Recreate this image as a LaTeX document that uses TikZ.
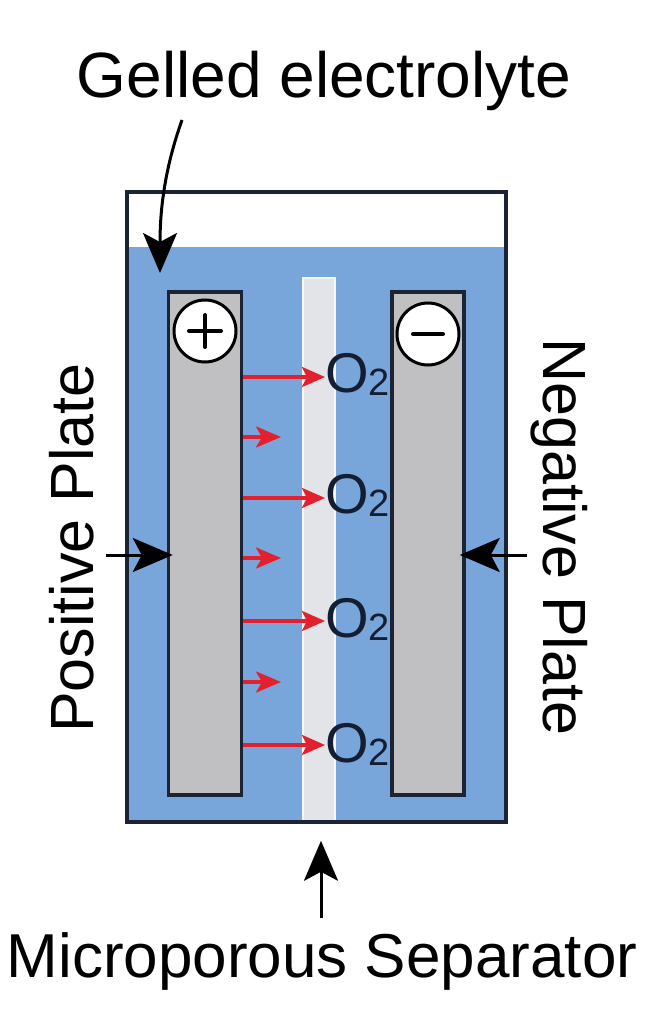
\documentclass[tikz,border=0pt]{standalone}
\usepackage{fontspec}
\setmainfont{Liberation Sans}
\usetikzlibrary{arrows.meta}
\definecolor{gel}{RGB}{120,166,218}
\definecolor{platec}{RGB}{192,192,194}
\definecolor{sepc}{RGB}{226,228,231}
\definecolor{edgec}{RGB}{28,36,52}
\definecolor{redarr}{RGB}{226,32,46}
\definecolor{otext}{RGB}{20,30,50}
\tikzset{
  platebox/.style={draw=edgec, line width=3.5pt, fill=platec, minimum width=73pt, minimum height=503pt, inner sep=0pt},
  signcirc/.style={circle, draw=black, line width=3pt, fill=white, minimum size=62pt, inner sep=0pt},
  oxy/.style={anchor=base west, text=otext, inner sep=0pt, font=\fontsize{56}{56}\selectfont},
  redlong/.style={draw=redarr, line width=3.5pt, -{Stealth[length=23pt,width=20pt,inset=5pt]}},
  redshort/.style={draw=redarr, line width=3.5pt, -{Stealth[length=25pt,width=21pt,inset=6pt]}},
  blk/.style={draw=black, line width=3pt, -{Stealth[length=40pt,width=34pt,inset=9pt]}},
  lbl/.style={inner sep=0pt, font=\fontsize{62}{62}\selectfont},
  signline/.style={line width=4pt, line cap=round}
}
\begin{document}
\begin{tikzpicture}[x=1pt,y=-1pt]
\useasboundingbox (0,0) rectangle (646,1024);
\fill[white] (0,0) rectangle (646,1024);
% gel
\fill[gel] (127,247) rectangle (506,822);
% separator
\node[fill=sepc, draw=white!70!sepc, line width=1.5pt, minimum width=32pt, minimum height=544pt, inner sep=0pt] (sep) at (319,550) {};
% O2 labels
\node[oxy] (o1) at (325,392) {O\raisebox{-3pt}{\fontsize{38}{38}\selectfont 2}};
\node[oxy] (o2) at (325,513) {O\raisebox{-3pt}{\fontsize{38}{38}\selectfont 2}};
\node[oxy] (o3) at (325,637) {O\raisebox{-3pt}{\fontsize{38}{38}\selectfont 2}};
\node[oxy] (o4) at (325,762) {O\raisebox{-3pt}{\fontsize{38}{38}\selectfont 2}};
% plates
\node[platebox] (pplate) at (205,543.5) {};
\node[platebox, minimum width=72pt] (nplate) at (428,543.5) {};
% sign circles
\node[signcirc] (pc) at (205,331) {};
\node[signcirc] (nc) at (428,334) {};
\draw[signline] ([xshift=-16pt]pc.center) -- ([xshift=16pt]pc.center);
\draw[signline] ([yshift=-16pt]pc.center) -- ([yshift=16pt]pc.center);
\draw[signline] ([xshift=-15pt]nc.center) -- ([xshift=15pt]nc.center);
% red arrows
\coordinate (r1) at (243,377);
\coordinate (r2) at (243,498);
\coordinate (r3) at (243,621);
\coordinate (r4) at (243,745);
\draw[redlong] (r1) -- (o1.west |- r1);
\draw[redlong] (r2) -- (o2.west |- r2);
\draw[redlong] (r3) -- (o3.west |- r3);
\draw[redlong] (r4) -- (o4.west |- r4);
\coordinate (s1) at (243,437);
\coordinate (s2) at (243,558);
\coordinate (s3) at (243,682);
\coordinate (t1) at (281,437);
\coordinate (t2) at (281,558);
\coordinate (t3) at (281,682);
\draw[redshort] (s1) -- (t1);
\draw[redshort] (s2) -- (t2);
\draw[redshort] (s3) -- (t3);
% outer box
\node[draw=edgec, line width=3.5pt, minimum width=379pt, minimum height=630pt, inner sep=0pt] (box) at (316.5,507) {};
% labels
\node[lbl, anchor=base, font=\fontsize{64}{64}\selectfont] (gl) at (324,98) {Gelled electrolyte};
\node[lbl, anchor=base] (ms) at (322,977) {Microporous Separator};
\node[lbl, anchor=base, rotate=90, font=\fontsize{61}{61}\selectfont] (pp) at (93,548) {Positive Plate};
\node[lbl, anchor=base, rotate=-90, font=\fontsize{61}{61}\selectfont] (np) at (543,537) {Negative Plate};
% black arrows
\coordinate (ca) at (182,120);
\coordinate (ct) at (160,273);
\draw[blk] (ca) .. controls (166,165) and (160,205) .. (ct);
\coordinate (la) at (106,555);
\draw[blk] (la) -- ([xshift=6pt]pplate.west |- la);
\coordinate (ra) at (527,555);
\draw[blk] (ra) -- ([xshift=-6pt]nplate.east |- ra);
\coordinate (ba) at (321,918);
\draw[blk, shorten >=18pt] (ba) -- (ba |- sep.south);
\end{tikzpicture}
\end{document}
